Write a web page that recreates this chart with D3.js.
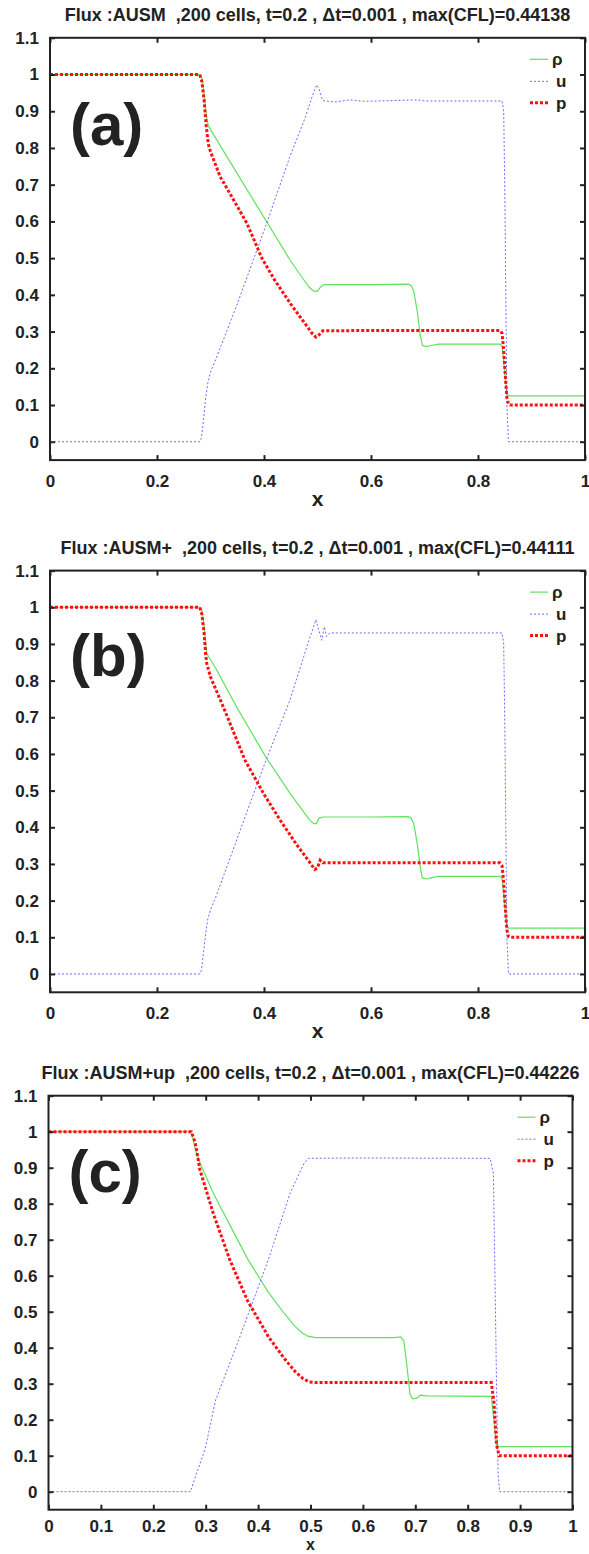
<!DOCTYPE html>
<html>
<head>
<meta charset="utf-8">
<script src="https://cdn.jsdelivr.net/npm/d3@7"></script>
<style>
  html, body { margin: 0; padding: 0; background: #ffffff; }
  svg text { font-family: "Liberation Sans", Arial, Helvetica, sans-serif; font-weight: bold; fill: #222; }
</style>
</head>
<body>
<svg id="chart" width="589" height="1554"></svg>
<script>
// ---------------- data ----------------
const titles = [
  "Flux :AUSM  ,200 cells, t=0.2 , \u0394t=0.001 , max(CFL)=0.44138",
  "Flux :AUSM+  ,200 cells, t=0.2 , \u0394t=0.001 , max(CFL)=0.44111",
  "Flux :AUSM+up  ,200 cells, t=0.2 , \u0394t=0.001 , max(CFL)=0.44226"
];
const panelLabels = ["(a)", "(b)", "(c)"];
const seriesNames = ["\u03c1", "u", "p"];
const yTicks = [0, 0.1, 0.2, 0.3, 0.4, 0.5, 0.6, 0.7, 0.8, 0.9, 1, 1.1];
const xTicksAB = [0, 0.2, 0.4, 0.6, 0.8, 1];
const xTicksC = [0, 0.1, 0.2, 0.3, 0.4, 0.5, 0.6, 0.7, 0.8, 0.9, 1];

// panel (a) AUSM
const rhoA = [[0,1],[0.28,1],[0.284,0.99],[0.288,0.95],[0.292,0.89],[0.296,0.86],[0.31,0.826],[0.35,0.73],[0.40,0.611],[0.4486,0.495],[0.47,0.45],[0.485,0.42],[0.493,0.41],[0.5,0.41],[0.505,0.42],[0.512,0.428],[0.6,0.428],[0.67,0.429],[0.675,0.425],[0.68,0.41],[0.687,0.35],[0.692,0.29],[0.696,0.262],[0.704,0.259],[0.712,0.262],[0.726,0.266],[0.841,0.266],[0.845,0.26],[0.848,0.22],[0.851,0.17],[0.854,0.13],[0.857,0.125],[1,0.125]];
const uA = [[0,0],[0.28,0],[0.283,0.01],[0.287,0.06],[0.291,0.12],[0.295,0.16],[0.30,0.19],[0.31,0.225],[0.35,0.375],[0.38,0.495],[0.405,0.595],[0.4486,0.777],[0.4766,0.881],[0.49,0.94],[0.4984,0.972],[0.503,0.96],[0.5096,0.929],[0.533,0.925],[0.561,0.931],[0.586,0.927],[0.688,0.931],[0.70,0.928],[0.845,0.928],[0.848,0.9],[0.85,0.7],[0.852,0.4],[0.854,0.1],[0.857,0],[1,0]];
const pA = [[0,1],[0.28,1],[0.284,0.98],[0.288,0.93],[0.292,0.86],[0.296,0.81],[0.30,0.79],[0.318,0.722],[0.343,0.659],[0.368,0.595],[0.396,0.50],[0.42,0.44],[0.45,0.375],[0.47,0.335],[0.49,0.295],[0.497,0.285],[0.502,0.29],[0.51,0.302],[0.6,0.303],[0.841,0.303],[0.845,0.295],[0.848,0.25],[0.851,0.18],[0.854,0.12],[0.857,0.102],[0.86,0.1],[1,0.1]];

// panel (b) AUSM+
const rhoB = [[0,1],[0.28,1],[0.284,0.99],[0.288,0.95],[0.291,0.9],[0.293,0.874],[0.31,0.833],[0.35,0.725],[0.405,0.588],[0.45,0.49],[0.47,0.45],[0.485,0.42],[0.493,0.41],[0.498,0.41],[0.503,0.425],[0.51,0.428],[0.6,0.428],[0.67,0.429],[0.675,0.425],[0.68,0.41],[0.687,0.35],[0.692,0.29],[0.696,0.262],[0.704,0.259],[0.712,0.262],[0.726,0.266],[0.841,0.266],[0.845,0.26],[0.848,0.22],[0.851,0.17],[0.854,0.13],[0.857,0.125],[1,0.125]];
const uB = [[0,0],[0.28,0],[0.283,0.01],[0.287,0.06],[0.291,0.11],[0.295,0.15],[0.30,0.175],[0.31,0.21],[0.35,0.37],[0.405,0.588],[0.4486,0.747],[0.48,0.892],[0.497,0.966],[0.502,0.94],[0.508,0.91],[0.5128,0.947],[0.517,0.92],[0.523,0.93],[0.6,0.93],[0.845,0.93],[0.848,0.9],[0.85,0.7],[0.852,0.4],[0.854,0.1],[0.857,0],[1,0]];
const pB = [[0,1],[0.28,1],[0.284,0.98],[0.288,0.93],[0.291,0.87],[0.293,0.847],[0.30,0.81],[0.324,0.728],[0.3645,0.583],[0.40,0.49],[0.43,0.42],[0.46,0.355],[0.48,0.315],[0.495,0.285],[0.50,0.29],[0.505,0.31],[0.51,0.303],[0.6,0.303],[0.841,0.303],[0.845,0.295],[0.848,0.25],[0.851,0.18],[0.854,0.12],[0.857,0.102],[0.86,0.1],[1,0.1]];

// panel (c) AUSM+up
const rhoC = [[0,1],[0.27,1],[0.2745,0.99],[0.2796,0.954],[0.29,0.91],[0.3145,0.829],[0.35,0.73],[0.381,0.644],[0.42,0.553],[0.45,0.495],[0.47,0.46],[0.485,0.44],[0.495,0.432],[0.51,0.428],[0.66,0.428],[0.672,0.43],[0.678,0.42],[0.684,0.35],[0.69,0.27],[0.695,0.258],[0.703,0.26],[0.71,0.268],[0.72,0.266],[0.845,0.265],[0.85,0.2],[0.855,0.13],[0.858,0.125],[1,0.125]];
const uC = [[0,0],[0.271,0],[0.28,0.04],[0.299,0.119],[0.319,0.255],[0.36,0.41],[0.4195,0.644],[0.461,0.829],[0.4876,0.912],[0.496,0.926],[0.6,0.927],[0.843,0.926],[0.849,0.884],[0.852,0.6],[0.855,0.3],[0.858,0.05],[0.861,0],[1,0]];
const pC = [[0,1],[0.2725,1],[0.28,0.97],[0.289,0.894],[0.3145,0.773],[0.346,0.644],[0.38,0.53],[0.42,0.43],[0.45,0.37],[0.47,0.335],[0.485,0.315],[0.497,0.305],[0.51,0.303],[0.845,0.303],[0.85,0.25],[0.855,0.13],[0.86,0.1],[1,0.1]];

// ---------------- layout ----------------
const panels = [
  { title: titles[0], label: panelLabels[0], left: 50,   right: 585,   top: 37.8,  bottom: 460.1, labelY: 107, tickPad: 15, xlabY: 46, xlabSize: 21, xticks: xTicksAB, series: [rhoA, uA, pA] },
  { title: titles[1], label: panelLabels[1], left: 50,   right: 585,   top: 570.6, bottom: 992.3, labelY: 105, tickPad: 15, xlabY: 46, xlabSize: 21, xticks: xTicksAB, series: [rhoB, uB, pB] },
  { title: titles[2], label: panelLabels[2], left: 48.5, right: 572.5, top: 1095.7,bottom: 1509.7,labelY: 96,  tickPad: 10, xlabY: 40.5, xlabSize: 16, xticks: xTicksC,  series: [rhoC, uC, pC] }
];
const styles = [
  { color: "#5ee35e", width: 1.2, dash: null },
  { color: "#6a6aff", width: 1.0, dash: "2,2" },
  { color: "#ff1010", width: 3.0, dash: "3,2" }
];
const fmt = d => (d === 0 || d === 1) ? String(d) : String(+d.toFixed(1));

const svg = d3.select("#chart");
svg.append("rect").attr("width", 589).attr("height", 1554).attr("fill", "#fff");

panels.forEach(P => {
  const x = d3.scaleLinear().domain([0, 1]).range([P.left, P.right]);
  const y = d3.scaleLinear().domain([-0.05, 1.1]).range([P.bottom, P.top]);
  const g = svg.append("g");

  // title
  g.append("text").attr("x", (P.left + P.right) / 2).attr("y", P.top - 17)
    .attr("text-anchor", "middle").style("font-size", "18px").style("white-space", "pre")
    .attr("xml:space", "preserve").text(P.title);

  // lines
  P.series.forEach((data, i) => {
    const line = d3.line().x(d => x(d[0])).y(d => y(d[1]));
    const s = styles[i];
    g.append("path").attr("d", line(data)).attr("fill", "none")
      .attr("stroke", s.color).attr("stroke-width", s.width)
      .attr("stroke-dasharray", s.dash);
  });

  // axes (ticks inside, mirrored)
  const tk = 5;
  const axB = d3.axisBottom(x).tickValues(P.xticks).tickSize(-tk).tickPadding(P.tickPad).tickFormat(fmt);
  const axT = d3.axisTop(x).tickValues(P.xticks).tickSize(-tk).tickFormat("");
  const axL = d3.axisLeft(y).tickValues(yTicks).tickSize(-tk).tickPadding(11).tickFormat(fmt);
  const axR = d3.axisRight(y).tickValues(yTicks).tickSize(-tk).tickFormat("");
  const gb = g.append("g").attr("transform", `translate(0,${P.bottom})`).call(axB);
  const gt = g.append("g").attr("transform", `translate(0,${P.top})`).call(axT);
  const gl = g.append("g").attr("transform", `translate(${P.left},0)`).call(axL);
  const gr = g.append("g").attr("transform", `translate(${P.right},0)`).call(axR);
  [gb, gt, gl, gr].forEach(a => {
    a.select(".domain").remove();
    a.selectAll(".tick line").attr("stroke", "#222").attr("stroke-width", 2);
    a.selectAll("text").style("font-size", "17px").style("font-family", "'Liberation Sans', Arial, sans-serif").style("font-weight", "bold").attr("fill", "#222");
  });
  g.append("rect").attr("x", P.left).attr("y", P.top)
    .attr("width", P.right - P.left).attr("height", P.bottom - P.top)
    .attr("fill", "none").attr("stroke", "#222").attr("stroke-width", 2);

  // x label
  g.append("text").attr("x", (P.left + P.right) / 2).attr("y", P.bottom + P.xlabY)
    .attr("text-anchor", "middle").style("font-size", P.xlabSize + "px").text("x");

  // big panel label
  g.append("text").attr("x", P.left + 20).attr("y", P.top + P.labelY)
    .style("font-size", "60px").attr("fill", "#000").text(P.label);

  // legend
  const ly = [21.5, 43.5, 65];
  seriesNames.forEach((n, i) => {
    const s = styles[i];
    g.append("line").attr("x1", P.right - 55).attr("x2", P.right - 37)
      .attr("y1", P.top + ly[i]).attr("y2", P.top + ly[i])
      .attr("stroke", s.color).attr("stroke-width", s.width).attr("stroke-dasharray", s.dash);
    g.append("text").attr("x", P.right - (i === 0 ? 33 : 29)).attr("y", P.top + ly[i])
      .attr("dy", "0.35em").style("font-size", "17px").text(n);
  });
});
</script>
</body>
</html>
